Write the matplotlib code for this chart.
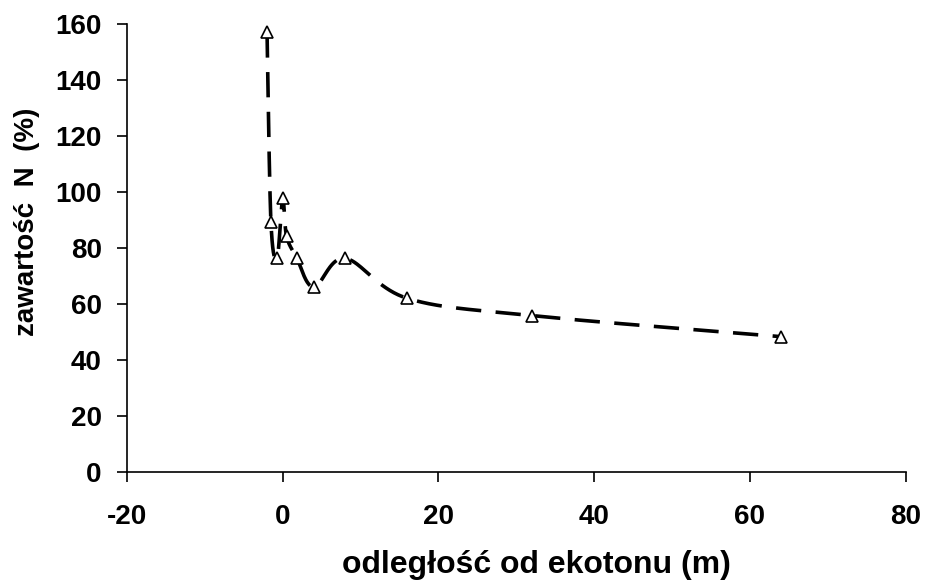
import matplotlib
matplotlib.use('Agg')
import matplotlib.pyplot as plt
import numpy as np
from matplotlib.ticker import FuncFormatter

plt.rcParams['font.family'] = ['Liberation Sans', 'DejaVu Sans']

# distance from the ecotone (m) and N content (%), in plotting order
odleglosc = [-2, -1.5, -0.7, 0, 0.5, 1.8, 4, 8, 16, 32, 64]
zawartosc = [157, 89.4, 76.5, 97.7, 84.3, 76.5, 66, 76.3, 62, 55.8, 48.3]

x_ticks = [-20, 0, 20, 40, 60, 80]
y_ticks = [0, 20, 40, 60, 80, 100, 120, 140, 160]


def excel_smooth(x, y, n=40):
    # bezier smoothing like Excel's "smoothed line" (Catmull-Rom style)
    x = np.asarray(x, float)
    y = np.asarray(y, float)
    px, py = [], []
    for i in range(len(x) - 1):
        x0, y0 = (x[i - 1], y[i - 1]) if i > 0 else (x[i], y[i])
        x3, y3 = (x[i + 2], y[i + 2]) if i + 2 < len(x) else (x[i + 1], y[i + 1])
        c1x = x[i] + (x[i + 1] - x0) / 6
        c1y = y[i] + (y[i + 1] - y0) / 6
        c2x = x[i + 1] - (x3 - x[i]) / 6
        c2y = y[i + 1] - (y3 - y[i]) / 6
        t = np.linspace(0, 1, n)
        b0, b1, b2, b3 = (1 - t) ** 3, 3 * t * (1 - t) ** 2, 3 * t ** 2 * (1 - t), t ** 3
        px.extend(b0 * x[i] + b1 * c1x + b2 * c2x + b3 * x[i + 1])
        py.extend(b0 * y[i] + b1 * c1y + b2 * c2y + b3 * y[i + 1])
    return np.array(px), np.array(py)


fig = plt.figure(figsize=(9.26, 5.84), dpi=100)
ax = fig.add_axes([0.137, 0.192, 0.841, 0.767])

sx, sy = excel_smooth(odleglosc, zawartosc)
ax.plot(sx, sy, color='black', linewidth=2.6, linestyle=(0, (7, 4)),
        dash_capstyle='butt', zorder=2)
ax.plot(odleglosc, zawartosc, linestyle='none', marker='^', markersize=8.5,
        markerfacecolor='white', markeredgecolor='black', markeredgewidth=1.2,
        zorder=3)

ax.set_xlim(-20, 80)
ax.set_ylim(0, 160)
ax.set_xticks(x_ticks)
ax.set_yticks(y_ticks)
ax.xaxis.set_major_formatter(FuncFormatter(lambda v, p: '%d' % v))

for s in ['top', 'right']:
    ax.spines[s].set_visible(False)
for s in ['left', 'bottom']:
    ax.spines[s].set_linewidth(1.2)

ax.tick_params(axis='both', direction='out', length=7, width=1.2,
               labelsize=20)
ax.tick_params(axis='y', pad=11)
ax.tick_params(axis='x', pad=16)
for lbl in ax.get_xticklabels() + ax.get_yticklabels():
    lbl.set_fontweight('bold')

ax.set_xlabel('odległość od ekotonu (m)', fontsize=23, fontweight='bold')
ax.set_ylabel('zawartość  N  (%)', fontsize=20, fontweight='bold')
ax.xaxis.set_label_coords(0.526, -0.175)
ax.yaxis.set_label_coords(-0.112, 0.558)

fig.savefig('out.png', dpi=100)
